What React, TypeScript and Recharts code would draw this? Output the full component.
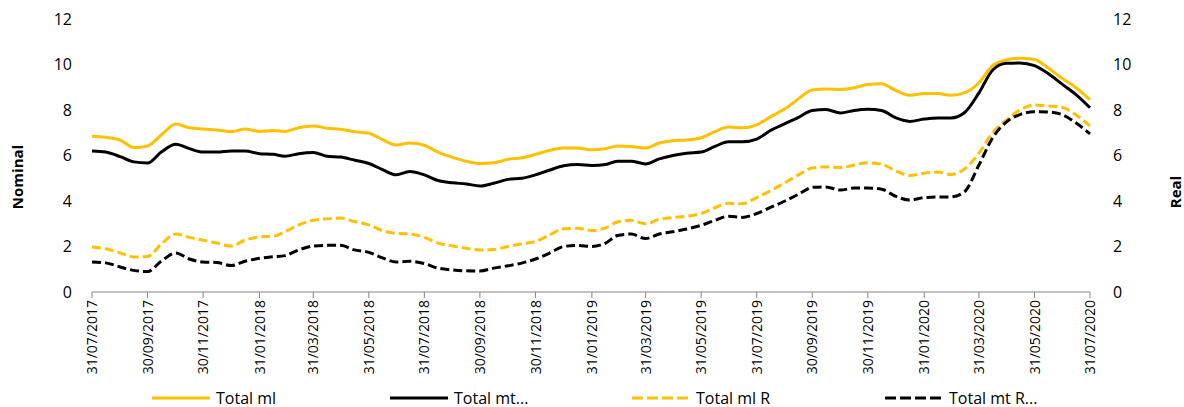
import { LineChart, Line, XAxis, YAxis } from "recharts";

const dates = [
  "31/07/2017", "15/08/2017", "31/08/2017", "15/09/2017", "30/09/2017", "15/10/2017", "31/10/2017", "15/11/2017", "30/11/2017", "15/12/2017", "31/12/2017",
  "15/01/2018", "31/01/2018", "15/02/2018", "28/02/2018", "15/03/2018", "31/03/2018", "15/04/2018", "30/04/2018", "15/05/2018", "31/05/2018", "15/06/2018", "30/06/2018",
  "15/07/2018", "31/07/2018", "15/08/2018", "31/08/2018", "15/09/2018", "30/09/2018", "15/10/2018", "31/10/2018", "15/11/2018", "30/11/2018", "15/12/2018", "31/12/2018",
  "15/01/2019", "31/01/2019", "15/02/2019", "28/02/2019", "15/03/2019", "31/03/2019", "15/04/2019", "30/04/2019", "15/05/2019", "31/05/2019", "15/06/2019", "30/06/2019",
  "15/07/2019", "31/07/2019", "15/08/2019", "31/08/2019", "15/09/2019", "30/09/2019", "15/10/2019", "31/10/2019", "15/11/2019", "30/11/2019", "15/12/2019", "31/12/2019",
  "15/01/2020", "31/01/2020", "15/02/2020", "29/02/2020", "15/03/2020", "31/03/2020", "15/04/2020", "30/04/2020", "15/05/2020", "31/05/2020", "15/06/2020", "30/06/2020",
  "15/07/2020", "31/07/2020",
];

const totalMl = [
  6.85, 6.8, 6.68, 6.35, 6.42, 6.9, 7.38, 7.22, 7.16, 7.12, 7.05,
  7.16, 7.06, 7.1, 7.06, 7.22, 7.3, 7.2, 7.15, 7.05, 6.98, 6.7, 6.46,
  6.55, 6.45, 6.15, 5.92, 5.75, 5.65, 5.68, 5.83, 5.9, 6.05, 6.22, 6.33,
  6.33, 6.25, 6.3, 6.42, 6.4, 6.33, 6.55, 6.65, 6.68, 6.78, 7.05, 7.25,
  7.22, 7.35, 7.7, 8.05, 8.5, 8.88, 8.92, 8.9, 8.98, 9.12, 9.15, 8.85,
  8.65, 8.72, 8.72, 8.65, 8.75, 9.2, 9.95, 10.2, 10.28, 10.22, 9.85, 9.4,
  9.0, 8.45,
];

const totalMt = [
  6.2, 6.15, 5.95, 5.72, 5.67, 6.15, 6.5, 6.3, 6.15, 6.15, 6.2,
  6.2, 6.08, 6.05, 5.97, 6.08, 6.13, 5.97, 5.93, 5.8, 5.65, 5.38, 5.15,
  5.3, 5.15, 4.9, 4.8, 4.75, 4.66, 4.78, 4.95, 5.0, 5.15, 5.35, 5.55,
  5.6, 5.56, 5.6, 5.75, 5.75, 5.63, 5.85, 6.0, 6.1, 6.15, 6.4, 6.6,
  6.6, 6.72, 7.1, 7.4, 7.68, 7.98, 8.02, 7.87, 7.98, 8.03, 7.98, 7.65,
  7.5, 7.6, 7.65, 7.65, 7.88, 8.75, 9.75, 10.05, 10.07, 9.95, 9.6, 9.15,
  8.7, 8.1,
];

const totalMlR = [
  1.98, 1.9, 1.72, 1.54, 1.56, 2.1, 2.55, 2.4, 2.28, 2.15, 2.02,
  2.28, 2.42, 2.45, 2.65, 2.95, 3.15, 3.22, 3.25, 3.1, 2.95, 2.7, 2.58,
  2.55, 2.4, 2.15, 2.02, 1.92, 1.85, 1.87, 2.0, 2.12, 2.22, 2.5, 2.78,
  2.8, 2.7, 2.82, 3.08, 3.15, 3.0, 3.2, 3.27, 3.33, 3.45, 3.7, 3.9,
  3.88, 4.15, 4.45, 4.8, 5.15, 5.45, 5.5, 5.47, 5.58, 5.68, 5.62, 5.32,
  5.12, 5.22, 5.27, 5.17, 5.4, 6.1, 7.0, 7.55, 8.0, 8.22, 8.18, 8.12,
  7.8, 7.3,
];

const totalMtR = [
  1.32, 1.28, 1.1, 0.95, 0.9, 1.35, 1.71, 1.45, 1.32, 1.3, 1.16,
  1.35, 1.48, 1.55, 1.6, 1.85, 2.02, 2.05, 2.05, 1.85, 1.74, 1.5, 1.32,
  1.35, 1.25, 1.05, 0.97, 0.93, 0.92, 1.05, 1.15, 1.27, 1.45, 1.7, 2.0,
  2.05, 2.0, 2.15, 2.48, 2.55, 2.35, 2.55, 2.65, 2.77, 2.93, 3.15, 3.33,
  3.28, 3.45, 3.72, 4.0, 4.3, 4.6, 4.62, 4.48, 4.57, 4.57, 4.52, 4.2,
  4.04, 4.15, 4.18, 4.18, 4.4, 5.58, 6.77, 7.47, 7.8, 7.92, 7.91, 7.8,
  7.45, 6.95,
];

const tickDates = [
  "31/07/2017", "30/09/2017", "30/11/2017", "31/01/2018", "31/03/2018", "31/05/2018", "31/07/2018",
  "30/09/2018", "30/11/2018", "31/01/2019", "31/03/2019", "31/05/2019", "31/07/2019", "30/09/2019",
  "30/11/2019", "31/01/2020", "31/03/2020", "31/05/2020", "31/07/2020",
];

const yTicks = [0, 2, 4, 6, 8, 10, 12];

const YELLOW = "#FFC000";
const BLACK = "#000000";
const FONT = "'Open Sans', sans-serif";

const toTs = (s: string) => {
  const [d, m, y] = s.split("/").map(Number);
  return Date.UTC(y, m - 1, d);
};

const fmt = (ts: number) => {
  const d = new Date(ts);
  const p = (n: number) => String(n).padStart(2, "0");
  return `${p(d.getUTCDate())}/${p(d.getUTCMonth() + 1)}/${d.getUTCFullYear()}`;
};

const data = dates.map((s, i) => ({
  t: toTs(s),
  ml: totalMl[i],
  mt: totalMt[i],
  mlR: totalMlR[i],
  mtR: totalMtR[i],
}));

const xTicks = tickDates.map(toTs);

const DateTick = (props: any) => {
  const { x, y, payload } = props;
  return (
    <g transform={`translate(${x},${y})`}>
      <text transform="rotate(-90)" textAnchor="end" dy="0.36em" fontSize={14} fill="#000" fontFamily={FONT}>
        {fmt(payload.value)}
      </text>
    </g>
  );
};

const legendItems = [
  { label: "Total ml", color: YELLOW, dash: false, left: 152 },
  { label: "Total mt...", color: BLACK, dash: false, left: 390 },
  { label: "Total ml R", color: YELLOW, dash: true, left: 632 },
  { label: "Total mt R...", color: BLACK, dash: true, left: 885 },
];

export default function App() {
  return (
    <div style={{ position: "absolute", left: 0, top: 0, width: 1184, height: 407, background: "#fff", fontFamily: FONT }}>
      <LineChart width={1184} height={385} data={data} margin={{ top: 19, right: 0, left: 0, bottom: 0 }}>
        <XAxis
          dataKey="t"
          type="number"
          domain={[xTicks[0], xTicks[xTicks.length - 1]]}
          ticks={xTicks}
          tick={<DateTick />}
          height={93}
          tickSize={6}
          tickMargin={2}
          stroke="#868686"
          interval={0}
        />
        <YAxis
          yAxisId="left"
          orientation="left"
          domain={[0, 12]}
          ticks={yTicks}
          width={92}
          axisLine={false}
          tickLine={false}
          tickSize={0}
          tickMargin={20}
          tick={{ fill: "#000", fontSize: 16, fontFamily: FONT }}
          label={{
            content: () => (
              <text x={17} y={177} transform="rotate(-90 17 177)" textAnchor="middle" dominantBaseline="central" fontSize={15} fontWeight="bold" fontFamily={FONT} fill="#000">
                Nominal
              </text>
            ),
          }}
        />
        <YAxis
          yAxisId="right"
          orientation="right"
          domain={[0, 12]}
          ticks={yTicks}
          width={94}
          axisLine={false}
          tickLine={false}
          tickSize={0}
          tickMargin={23}
          tick={{ fill: "#000", fontSize: 16, fontFamily: FONT, textAnchor: "start" }}
          label={{
            content: () => (
              <text x={1175} y={192} transform="rotate(-90 1175 192)" textAnchor="middle" dominantBaseline="central" fontSize={15} fontWeight="bold" fontFamily={FONT} fill="#000">
                Real
              </text>
            ),
          }}
        />
        <Line yAxisId="left" dataKey="ml" stroke={YELLOW} strokeWidth={3} dot={false} type="monotone" isAnimationActive={false} />
        <Line yAxisId="left" dataKey="mt" stroke={BLACK} strokeWidth={3} dot={false} type="monotone" isAnimationActive={false} />
        <Line yAxisId="right" dataKey="mlR" stroke={YELLOW} strokeWidth={3} strokeDasharray="9 4" dot={false} type="monotone" isAnimationActive={false} />
        <Line yAxisId="right" dataKey="mtR" stroke={BLACK} strokeWidth={3} strokeDasharray="9 4" dot={false} type="monotone" isAnimationActive={false} />
      </LineChart>
      {legendItems.map((it) => (
        <div key={it.label} style={{ position: "absolute", left: it.left, top: 387, height: 22, display: "flex", alignItems: "center", fontSize: 16, color: "#000" }}>
          <svg width={58} height={6} style={{ marginRight: 6 }}>
            <line x1={0} y1={3} x2={58} y2={3} stroke={it.color} strokeWidth={3} strokeDasharray={it.dash ? "11 4" : undefined} />
          </svg>
          <span>{it.label}</span>
        </div>
      ))}
    </div>
  );
}
